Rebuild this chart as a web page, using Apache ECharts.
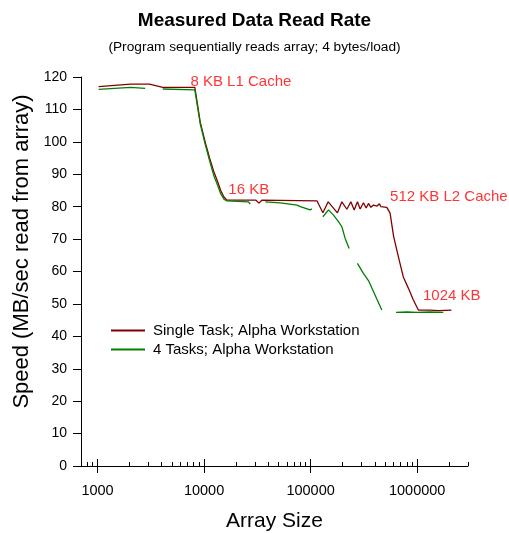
<!DOCTYPE html>
<html>
<head>
<meta charset="utf-8">
<script src="https://cdn.jsdelivr.net/npm/echarts@6/dist/echarts.min.js"></script>
<style>
html, body { margin: 0; padding: 0; background: #fff; }
#chart { width: 509px; height: 533px; }
</style>
</head>
<body>
<div id="chart"></div>
<script>
var FONT = '"Liberation Sans", Arial, sans-serif';

// single task run (array size in bytes, MB/sec)
var singleSize = [1024, 2048, 3072, 4096, 6144, 8192, 9216, 10240, 11264, 12288, 13312, 14336, 15360, 16384,
	30720, 32768, 34816, 114600, 130400, 146200, 178700, 196500, 218900, 238600, 256300, 275200, 291700,
	313400, 332200, 349100, 367500, 388800, 420000, 442600, 456200, 518900,
	557000, 600000, 645000, 690000, 743000, 828000, 921000, 1026000, 1300000, 1600000, 2097152];
var singleSpeed = [117.0, 117.8, 117.8, 116.8, 116.8, 116.8, 106, 100, 95, 91, 88, 85, 83, 82,
	82, 81.1, 82, 81.8, 78.1, 81.5, 78.1, 81.5, 79.2, 81.5, 79.0, 81.5, 79.3,
	81.2, 79.6, 81.0, 79.8, 80.5, 80.2, 80.9, 80.0, 79.8,
	78, 71, 66.5, 62.5, 58.2, 54.8, 51.2, 48.1, 48.1, 47.9, 48.1];

// four tasks run, null = no data (gap in line)
var fourSize = [1024, 2048, 2800, 3400, 4096, 8192, 9216, 10240, 11264, 12288, 13312, 14336, 15360, 16384,
	26000, 27200, 32000, 37600, 52000, 74500, 80000, 99000, 102800, 115000,
	130400, 147200, 164000, 182600, 196500, 211000, 230000, 250000,
	275000, 313000, 349000, 389000, 418000, 466000, 550000,
	634000, 800000, 1000000, 1300000, 1760000];
var fourSpeed = [116.2, 116.8, 116.5, null, 116.3, 116.0, 105.5, 99.3, 94.2, 89.8, 86.8, 84, 82.3, 81.8,
	81.5, 80.8, null, 81.5, 81.2, 80.5, 80, 79, 79.3, null,
	76.9, 79, 77.4, 75.4, 73.8, 70.2, 67.1, null,
	62.5, 59.4, 57.2, 53.8, 51.5, 48.1, null,
	47.4, 47.5, 47.4, 47.5, 47.4];

var majorTicks = [1000, 10000, 100000, 1000000];
var minorTicks = [800, 900, 2000, 3000, 4000, 5000, 6000, 7000, 8000, 9000,
	20000, 30000, 40000, 50000, 60000, 70000, 80000, 90000,
	200000, 300000, 400000, 500000, 600000, 700000, 800000, 900000, 2000000, 3000000];

var noteText = ['8 KB L1 Cache', '16 KB', '512 KB L2 Cache', '1024 KB'];
var noteSize = [7450, 16900, 557000, 1135000];
var noteSpeed = [118.5, 85.2, 83.0, 52.4];

function lg(v){ return Math.log10(v); }
function pairs(sizes, vals){
	return sizes.map(function(s, i){ return [lg(s), vals[i] == null ? '-' : vals[i]]; });
}

function xAx(extra){
	var base = {
		type: 'value', position: 'bottom', min: lg(700), max: lg(3000000),
		splitLine: {show: false}, axisLine: {show: false, onZero: false},
		axisLabel: {show: false}, axisTick: {show: false}
	};
	return Object.assign(base, extra);
}

var chart = echarts.init(document.getElementById('chart'));
chart.setOption({
	animation: false,
	backgroundColor: '#fff',
	title: {
		text: 'Measured Data Read Rate',
		subtext: '(Program sequentially reads array; 4 bytes/load)',
		left: 'center', top: 6, itemGap: 10,
		textStyle: {fontFamily: FONT, fontSize: 19, fontWeight: 'bold', color: '#000'},
		subtextStyle: {fontFamily: FONT, fontSize: 13.7, color: '#000'}
	},
	legend: {
		orient: 'vertical', left: 111, top: 323, padding: 0,
		icon: 'rect', itemWidth: 34, itemHeight: 2, itemGap: 4,
		data: ['Single Task; Alpha Workstation', '4 Tasks; Alpha Workstation'],
		textStyle: {fontFamily: FONT, fontSize: 15, color: '#000', padding: [0, 0, 0, 3]}
	},
	grid: {left: 81, right: 41, top: 77, bottom: 67, containLabel: false, outerBoundsMode: 'none'},
	xAxis: [
		xAx({
			axisLine: {show: true, onZero: false, lineStyle: {color: '#000', width: 1}},
			axisTick: {show: true, length: 7, customValues: majorTicks.map(lg), lineStyle: {color: '#000'}},
			axisLabel: {
				show: true, customValues: majorTicks.map(lg), margin: 17,
				color: '#000', fontFamily: FONT, fontSize: 14.5,
				formatter: function(v){ return String(Math.round(Math.pow(10, v))); }
			},
			name: 'Array Size', nameLocation: 'middle', nameGap: 45,
			nameTextStyle: {fontFamily: FONT, fontSize: 21, color: '#000'}
		}),
		xAx({axisTick: {show: true, inside: true, length: 7, customValues: majorTicks.map(lg), lineStyle: {color: '#000'}}}),
		xAx({axisTick: {show: true, inside: true, length: 4, customValues: minorTicks.map(lg), lineStyle: {color: '#000'}}})
	],
	yAxis: {
		type: 'value', min: 0, max: 120, interval: 10,
		splitLine: {show: false},
		axisLine: {show: true, lineStyle: {color: '#000', width: 1}},
		axisTick: {show: true, length: 8, lineStyle: {color: '#000'}},
		axisLabel: {color: '#000', fontFamily: FONT, fontSize: 14, margin: 14},
		name: 'Speed (MB/sec read from array)', nameLocation: 'middle', nameGap: 47,
		nameTextStyle: {fontFamily: FONT, fontSize: 22, color: '#000', padding: [0, 0, 0, 40]}
	},
	series: [
		{
			name: 'Single Task; Alpha Workstation', type: 'line', xAxisIndex: 0,
			data: pairs(singleSize, singleSpeed), symbol: 'none', color: '#800000',
			lineStyle: {width: 1.3}, connectNulls: false
		},
		{
			name: '4 Tasks; Alpha Workstation', type: 'line', xAxisIndex: 0,
			data: pairs(fourSize, fourSpeed), symbol: 'none', color: '#008000',
			lineStyle: {width: 1.3}, connectNulls: false
		},
		{
			type: 'scatter', xAxisIndex: 0, symbolSize: 0, silent: true,
			data: noteText.map(function(t, i){ return {name: t, value: [lg(noteSize[i]), noteSpeed[i]]}; }),
			label: {
				show: true, position: 'right', distance: 0, formatter: '{b}',
				color: '#ff0000', fontFamily: FONT, fontSize: 15
			}
		}
	]
});
</script>
</body>
</html>
